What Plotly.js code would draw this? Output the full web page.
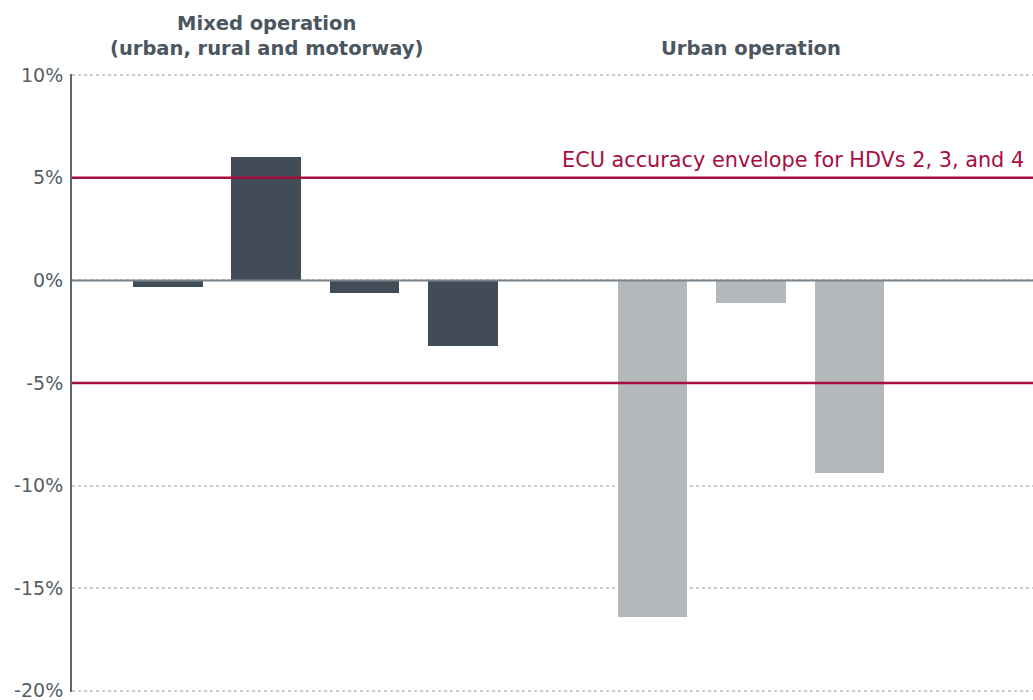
<!DOCTYPE html>
<html>
<head>
<meta charset="utf-8">
<script src="https://cdn.plot.ly/plotly-3.0.1.min.js"></script>
<style>html,body{margin:0;padding:0;background:#fff;}#chart{width:1033px;height:700px;}</style>
</head>
<body>
<div id="chart"></div>
<script>
// ---- data ----
const vehicles = ['HDV 1', 'HDV 2', 'HDV 3', 'HDV 4'];
const mixedValues = [-0.3, 6.0, -0.6, -3.2];          // % deviation, mixed operation
const urbanValues = [null, -16.4, -1.1, -9.4];        // % deviation, urban operation (HDV 1 not tested)
const envelopeLimits = [5, -5];                       // ECU accuracy envelope, %
const groupTitles = ['Mixed operation<br>(urban, rural and motorway)', 'Urban operation'];
const envelopeLabel = 'ECU accuracy envelope for HDVs 2, 3, and 4';
const yTickValues = [-20, -15, -10, -5, 0, 5, 10];
const yTickLabels = ['-20%', '-15%', '-10%', '-5%', '0%', '5%', '10%'];

// ---- build ----
const mixedX = vehicles.map(v => 'Mixed · ' + v);
const urbanX = vehicles.map(v => 'Urban · ' + v);
const FONT = 'DejaVu Sans, sans-serif';
const barW = 0.71;

const traces = [
  {type: 'bar', x: mixedX, y: mixedValues, marker: {color: '#414c56'},
   width: barW, offset: -barW / 2, hoverinfo: 'x+y', showlegend: false},
  {type: 'bar', x: urbanX, y: urbanValues, marker: {color: '#b3b8bb'},
   width: barW, offset: -barW / 2 - 0.076, hoverinfo: 'x+y', showlegend: false}
];

const shapes = envelopeLimits.map(v => ({
  type: 'line', xref: 'paper', x0: 0, x1: 1, yref: 'y', y0: v, y1: v,
  line: {color: '#a50e3e', width: 2.5}, layer: 'above'
}));
shapes.push({type: 'line', xref: 'paper', x0: 0, x1: 1, yref: 'y', y0: 0, y1: 0,
  line: {color: '#7a848c', width: 2}, layer: 'above'});

const annotations = [
  {text: groupTitles[0], xref: 'paper', x: 0.2019, xanchor: 'center', yref: 'paper', y: 1,
   yanchor: 'bottom', yshift: 12, showarrow: false, align: 'center',
   font: {family: FONT, size: 19.5, color: '#4b565f', weight: 'bold'}},
  {text: groupTitles[1], xref: 'paper', x: 0.7066, xanchor: 'center', yref: 'paper', y: 1,
   yanchor: 'bottom', yshift: 12, showarrow: false, align: 'center',
   font: {family: FONT, size: 19.5, color: '#4b565f', weight: 'bold'}},
  {text: envelopeLabel, xref: 'paper', x: 0.5078, xanchor: 'left', yref: 'y', y: envelopeLimits[0],
   yanchor: 'bottom', yshift: 4, showarrow: false,
   font: {family: FONT, size: 20.8, color: '#a50e3e'}}
];

const layout = {
  width: 1033, height: 700,
  margin: {l: 72, r: 0, t: 74, b: 8, pad: 0},
  paper_bgcolor: '#ffffff', plot_bgcolor: '#ffffff',
  font: {family: FONT, color: '#4f5a63'},
  bargap: 0,
  xaxis: {
    type: 'category', categoryorder: 'array', categoryarray: mixedX.concat(urbanX),
    range: [-0.97, 8.787], showticklabels: false, showgrid: false, zeroline: false,
    showline: false, ticks: ''
  },
  yaxis: {
    range: [-20.06, 10.06], tickvals: yTickValues, ticktext: yTickLabels,
    showgrid: true, gridcolor: '#cccccc', griddash: 'dot', gridwidth: 1.5,
    zeroline: false, showline: true, linecolor: '#5d6770', linewidth: 2,
    ticks: '', ticklabelstandoff: 3, ticklabeloverflow: 'allow',
    tickfont: {family: FONT, size: 19, color: '#545e67'}
  },
  shapes: shapes,
  annotations: annotations
};

Plotly.newPlot('chart', traces, layout, {displayModeBar: false, responsive: false});
</script>
</body>
</html>
